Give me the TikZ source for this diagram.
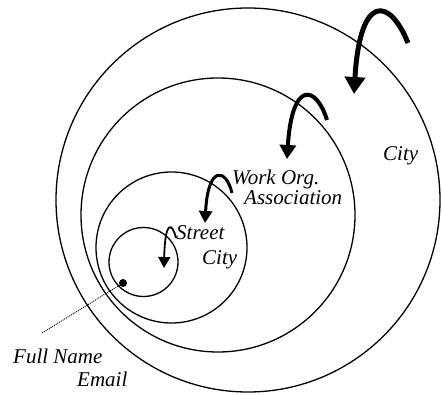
\documentclass[tikz,border=0pt]{standalone}
\usepackage{fontspec}
\setmainfont{Liberation Serif}
\usetikzlibrary{arrows.meta}

\begin{document}
\begin{tikzpicture}[x=1pt, y=-1pt,
        ring/.style={line width=1.3pt},
        lbl/.style={anchor=base west, inner sep=0pt, font=\fontsize{21}{25}\selectfont\itshape}]
        \useasboundingbox (0,0) rectangle (442,395);

        % Cercles emboites
        \draw[ring] (248,200) circle (192pt);
        \draw[ring] (218,215) circle (137pt);
        \draw[ring] (171.5,247.5) circle (75.5pt);
        \draw[ring] (143.5,262) circle (34.5pt);

        % Fleches en crochet (du plus grand au plus petit)
        \draw[line width=5pt, -{Triangle[length=17pt,width=20pt]}]
            (408,43) .. controls (390,-2) and (360,-8) .. (354,94);
        \draw[line width=4pt, -{Triangle[length=14pt,width=16pt]}]
            (327,120) .. controls (316,85) and (292,80) .. (287,159);
        \draw[line width=3pt, -{Triangle[length=12pt,width=13pt]}]
            (232,193) .. controls (226,168) and (208,165) .. (205,223);
        \draw[line width=1.8pt, -{Triangle[length=11pt,width=12pt]}]
            (176,238) .. controls (172,222) and (165,220) .. (164,268);

        % Textes
        \node[lbl] (city) at (383,161) {City};
        \node[lbl] (work) at (232,185) {Work Org.};
        \node[lbl] (assoc) at (244,205) {Association};
        \node[lbl] (street) at (176,240) {Street};
        \node[lbl] (city2) at (202,265) {City};
        \node[lbl] (fullname) at (13,363) {Full Name};
        \node[lbl] (email) at (77,387) {Email};

        % Point et ligne pointillee
        \coordinate (pt) at (123,283);
        \coordinate (lead) at (42,333);
        \fill (pt) circle (4pt);
        \draw[line width=0.9pt, dash pattern=on 1pt off 1pt] (pt) -- (lead);
    \end{tikzpicture}
\end{document}
